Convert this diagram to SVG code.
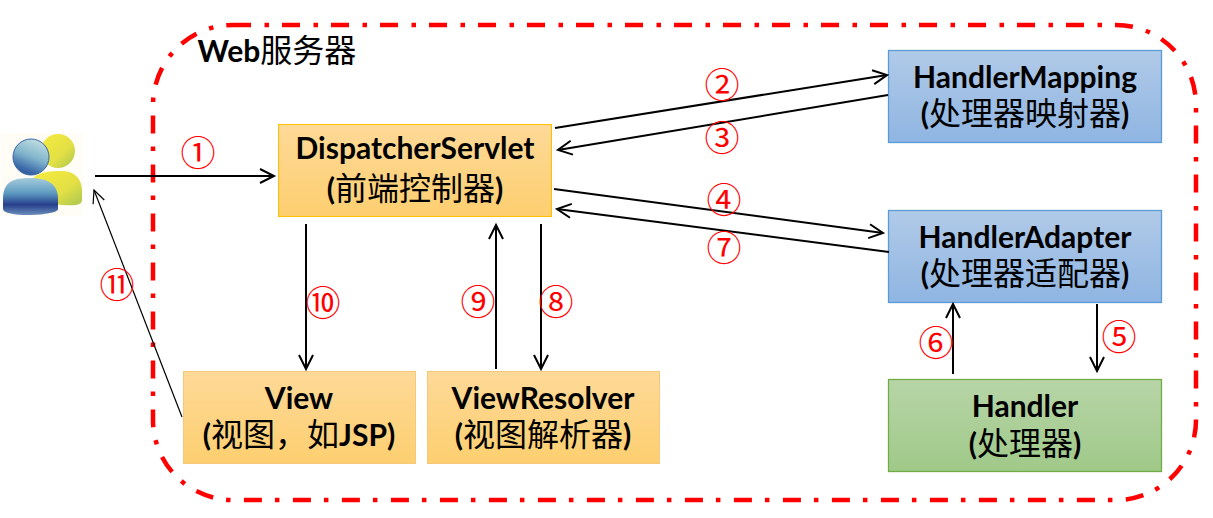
<svg xmlns="http://www.w3.org/2000/svg" width="1213" height="518" viewBox="0 0 1213 518">
<style>
text{font-family:"Lato","Noto Sans CJK SC",sans-serif;font-weight:700;font-size:30px;fill:#000;text-anchor:middle}
.c{font-family:"Noto Sans CJK SC",sans-serif;font-weight:400;font-size:32px}
.n{font-family:"DejaVu Serif","Noto Sans CJK SC",serif;font-weight:400;font-size:35px;fill:#f00}
.o{fill:url(#og);stroke:#ffc000;stroke-width:1}
.o2{fill:url(#og);stroke:#f4c97a;stroke-width:1}
.b{fill:url(#bg);stroke:#5b9bd5;stroke-width:1.3}
.g{fill:url(#gg);stroke:#70ad47;stroke-width:1.3}
.l{fill:none;stroke:#000;stroke-width:2;marker-end:url(#a)}
.t{fill:none;stroke:#000;stroke-width:1.2;marker-end:url(#a2)}
</style>
<defs>
<linearGradient id="og" x1="0" y1="0" x2="0" y2="1"><stop offset="0" stop-color="#fed998"/><stop offset="1" stop-color="#fdcf70"/></linearGradient>
<linearGradient id="bg" x1="0" y1="0" x2="0" y2="1"><stop offset="0" stop-color="#b1cae8"/><stop offset="1" stop-color="#8fb5e2"/></linearGradient>
<linearGradient id="gg" x1="0" y1="0" x2="0" y2="1"><stop offset="0" stop-color="#b7d5a7"/><stop offset="1" stop-color="#a0c989"/></linearGradient>
<linearGradient id="y" x1="0" y1="0" x2="1" y2="1"><stop offset="0" stop-color="#f7ec3f"/><stop offset="0.6" stop-color="#e3e045"/><stop offset="1" stop-color="#a9c650"/></linearGradient>
<linearGradient id="h" x1="0.7" y1="0" x2="0.3" y2="1"><stop offset="0" stop-color="#c3dfe2"/><stop offset="0.5" stop-color="#7fb3cb"/><stop offset="0.85" stop-color="#3b68a8"/><stop offset="1" stop-color="#2f5a9a"/></linearGradient>
<linearGradient id="bd" x1="0" y1="0" x2="0" y2="1"><stop offset="0" stop-color="#a5cbda"/><stop offset="0.4" stop-color="#5f9cc2"/><stop offset="0.72" stop-color="#263f8c"/><stop offset="1" stop-color="#6a8fbb"/></linearGradient>
<marker id="a" markerUnits="userSpaceOnUse" markerWidth="18" markerHeight="18" refX="15" refY="8" orient="auto"><path d="M1 1L15 8L1 15" fill="none" stroke="#000" stroke-width="2"/></marker>
<marker id="a2" markerUnits="userSpaceOnUse" markerWidth="18" markerHeight="18" refX="14" refY="7" orient="auto"><path d="M1 1L14 7L1 13" fill="none" stroke="#000" stroke-width="1.2"/></marker>
</defs>
<g id="server"><rect x="153" y="25" width="1043" height="475" rx="80" ry="80" fill="none" stroke="#f00" stroke-width="4.500" stroke-dasharray="18 13.500 4.500 13"/><text x="277" y="62"><tspan>Web</tspan><tspan class="c">服务器</tspan></text></g>
<g id="user">
<rect x="1" y="133" width="82" height="83" fill="#fffdf5"/>
<circle cx="58" cy="151" r="17" fill="url(#y)"/>
<path d="M33 178Q40 171 58 171L64 171Q82 173 82 192L82 200Q82 204 76 205Q64 206 55 204L33 178Z" fill="url(#y)"/>
<circle cx="31" cy="157" r="18" fill="url(#h)" stroke="#3a66a3"/>
<path d="M3 199C3 181 14 178 30 178C48 178 58 184 58 199L58 209C58 213 40 215 28 215C15 215 3 213 3 209Z" fill="url(#bd)"/>
</g>
<g id="dispatcher"><rect class="o" x="278.500" y="124.500" width="273" height="92"/><text x="415" y="159">DispatcherServlet</text><text x="415" y="200"><tspan>(</tspan><tspan class="c">前端控制器</tspan><tspan>)</tspan></text></g>
<g id="mapping"><rect class="b" x="888.500" y="50.500" width="273" height="92"/><text x="1025" y="88">HandlerMapping</text><text x="1025" y="125"><tspan>(</tspan><tspan class="c">处理器映射器</tspan><tspan>)</tspan></text></g>
<g id="adapter"><rect class="b" x="888.500" y="210.500" width="273" height="92"/><text x="1025" y="248">HandlerAdapter</text><text x="1025" y="285"><tspan>(</tspan><tspan class="c">处理器适配器</tspan><tspan>)</tspan></text></g>
<g id="handler"><rect class="g" x="888.500" y="379.500" width="273" height="92"/><text x="1025" y="417">Handler</text><text x="1025" y="455"><tspan>(</tspan><tspan class="c">处理器</tspan><tspan>)</tspan></text></g>
<g id="view"><rect class="o2" x="183.500" y="371.500" width="232" height="92"/><text x="299" y="409">View</text><text x="299" y="446"><tspan>(</tspan><tspan class="c">视图，</tspan><tspan class="c">如</tspan><tspan>JSP)</tspan></text></g>
<g id="resolver"><rect class="o2" x="427.500" y="371.500" width="232" height="92"/><text x="543" y="409">ViewResolver</text><text x="543" y="446"><tspan>(</tspan><tspan class="c">视图解析器</tspan><tspan>)</tspan></text></g>
<g id="connectors">
<path class="l" d="M555 128L887 75"/>
<path class="l" d="M888 95L558 150"/>
<path class="l" d="M554 189L883 233"/>
<path class="l" d="M889 252L557 209"/>
<path class="l" d="M1097 304V371"/>
<path class="l" d="M953 374V304"/>
<path class="l" d="M541 224V369"/>
<path class="l" d="M496 369V225"/>
<path class="l" d="M306 224V369"/>
<path class="l" d="M95 176H274"/>
<path class="t" d="M182 417L94 190"/>
</g>
<g id="labels">
<text class="n" x="198" y="166">①</text>
<text class="n" x="722" y="98">②</text>
<text class="n" x="722" y="151">③</text>
<text class="n" x="724" y="213">④</text>
<text class="n" x="1119" y="350">⑤</text>
<text class="n" x="936" y="356">⑥</text>
<text class="n" x="724" y="261">⑦</text>
<text class="n" x="556" y="315">⑧</text>
<text class="n" x="478" y="315">⑨</text>
<text class="n" x="323" y="316">⑩</text>
<text class="n" x="117" y="298">⑪</text>
</g>
</svg>
